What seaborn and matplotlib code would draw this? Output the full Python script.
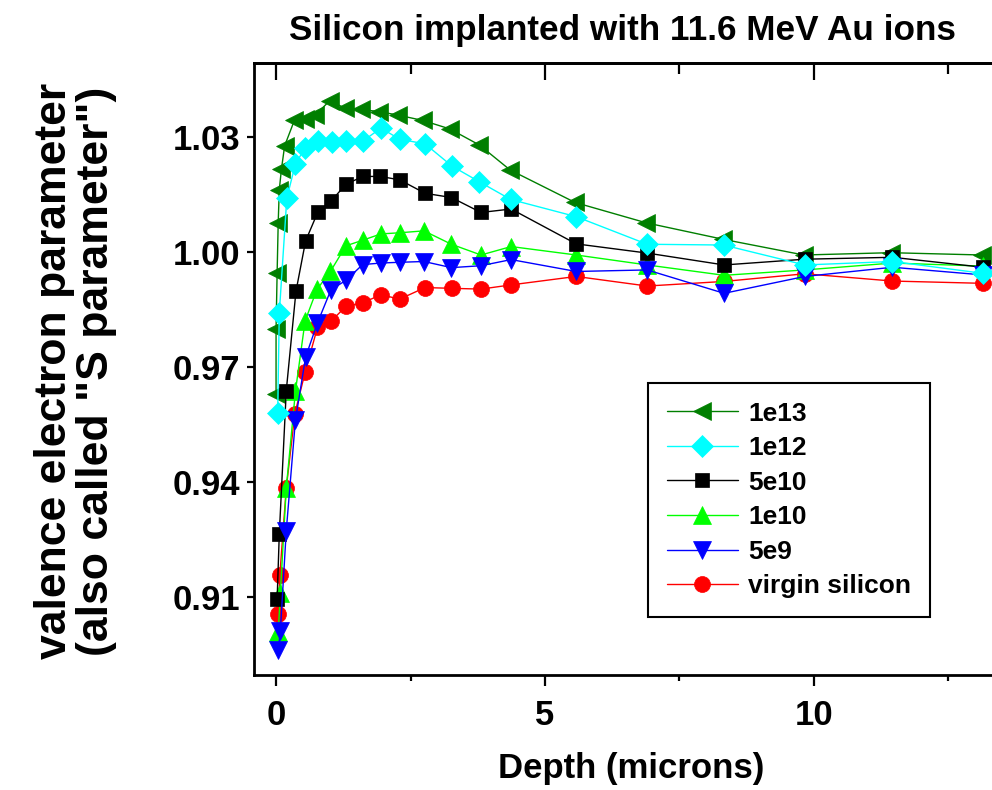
import matplotlib
matplotlib.use("Agg")
import matplotlib.pyplot as plt
import seaborn as sns
from matplotlib.ticker import FixedLocator

# Style: white background, plain ticks, black text
sns.set_style("ticks")
plt.rcParams['font.family'] = ['Liberation Sans', 'DejaVu Sans']
plt.rcParams['font.weight'] = 'bold'
for key in ['text.color', 'axes.labelcolor', 'xtick.color', 'ytick.color', 'axes.edgecolor']:
    plt.rcParams[key] = 'black'

# Data (depth in microns, S parameter)
depth_1e13 = [0.0, 0.0, 0.02, 0.04, 0.06, 0.10, 0.16, 0.34, 0.54, 0.73, 1.00, 1.28,
              1.57, 1.92, 2.27, 2.73, 3.23, 3.78, 4.35, 5.56, 6.88, 8.31, 9.81, 11.43, 13.12]
s_1e13 = [0.9630, 0.9798, 0.9946, 1.0076, 1.0162, 1.0216, 1.0277, 1.0343, 1.0346, 1.0357,
          1.0395, 1.0375, 1.0372, 1.0366, 1.0357, 1.0343, 1.0321, 1.0279, 1.0214, 1.0129,
          1.0076, 1.0033, 0.9992, 0.9998, 0.9992]

depth_1e12 = [0.03, 0.06, 0.20, 0.36, 0.54, 0.78, 1.04, 1.30, 1.62, 1.95, 2.30, 2.77,
              3.27, 3.78, 4.36, 5.58, 6.90, 8.32, 9.83, 11.46, 13.15]
s_1e12 = [0.9580, 0.9840, 1.0140, 1.0230, 1.0271, 1.0290, 1.0287, 1.0290, 1.0290, 1.0323,
          1.0294, 1.0282, 1.0224, 1.0183, 1.0137, 1.0092, 1.0020, 1.0018, 0.9966, 0.9975,
          0.9944]

depth_5e10 = [0.02, 0.06, 0.19, 0.37, 0.55, 0.78, 1.02, 1.30, 1.62, 1.94, 2.30, 2.77,
              3.26, 3.81, 4.37, 5.58, 6.90, 8.33, 9.83, 11.46, 13.14]
s_5e10 = [0.9094, 0.9263, 0.9638, 0.9897, 1.0029, 1.0105, 1.0132, 1.0177, 1.0197, 1.0197,
          1.0188, 1.0153, 1.0142, 1.0103, 1.0112, 1.0021, 0.9997, 0.9966, 0.9981, 0.9986,
          0.9960]

depth_1e10 = [0.04, 0.08, 0.19, 0.36, 0.54, 0.76, 1.01, 1.30, 1.62, 1.95, 2.30, 2.75,
              3.26, 3.81, 4.37, 5.58, 6.90, 8.33, 9.83, 11.46, 13.14]
s_1e10 = [0.9007, 0.9110, 0.9384, 0.9636, 0.9820, 0.9902, 0.9949, 1.0016, 1.0031, 1.0047,
          1.0050, 1.0055, 1.0020, 0.9992, 1.0014, 0.9992, 0.9966, 0.9939, 0.9953, 0.9971,
          0.9963]

depth_5e9 = [0.04, 0.08, 0.19, 0.36, 0.55, 0.77, 1.02, 1.30, 1.61, 1.95, 2.30, 2.75,
             3.26, 3.81, 4.37, 5.58, 6.90, 8.33, 9.83, 11.46, 13.14]
s_5e9 = [0.8961, 0.9011, 0.9273, 0.9561, 0.9726, 0.9815, 0.9901, 0.9926, 0.9967, 0.9971,
         0.9973, 0.9975, 0.9959, 0.9964, 0.9980, 0.9949, 0.9953, 0.9892, 0.9936, 0.9960,
         0.9940]

depth_virgin = [0.04, 0.07, 0.19, 0.35, 0.54, 0.77, 1.02, 1.30, 1.62, 1.95, 2.30, 2.77,
                3.27, 3.81, 4.37, 5.58, 6.90, 8.33, 9.83, 11.46, 13.15]
s_virgin = [0.9054, 0.9157, 0.9384, 0.9578, 0.9686, 0.9803, 0.9819, 0.9858, 0.9868, 0.9888,
            0.9877, 0.9907, 0.9905, 0.9903, 0.9914, 0.9936, 0.9911, 0.9923, 0.9943, 0.9924,
            0.9918]

labels = ['1e13', '1e12', '5e10', '1e10', '5e9', 'virgin silicon']
depths = [depth_1e13, depth_1e12, depth_5e10, depth_1e10, depth_5e9, depth_virgin]
values = [s_1e13, s_1e12, s_5e10, s_1e10, s_5e9, s_virgin]
colors = ['#007f00', '#00ffff', '#000000', '#00ff00', '#0000ff', '#ff0000']
markers = ['<', 'D', 's', '^', 'v', 'o']
msizes = [12.5, 11, 10, 12.5, 12.5, 11.5]
zorders = [2, 7, 5, 4, 6, 3]

yticks = [0.91, 0.94, 0.97, 1.00, 1.03]
ytick_labels = ['0.91', '0.94', '0.97', '1.00', '1.03']
xticks = [0, 5, 10]
xtick_labels = ['0', '5', '10']

fig = plt.figure(figsize=(9.92, 7.90), dpi=100)
ax = fig.add_axes([254 / 992, 1 - 675 / 790, 1 - 254 / 992, (675 - 63) / 790])

for lab, d, v, c, m, ms, z in zip(labels, depths, values, colors, markers, msizes, zorders):
    sns.lineplot(x=d, y=v, ax=ax, color=c, marker=m, markersize=ms, mec=c, mew=0.5,
                 linewidth=1.0, sort=False, estimator=None, label=lab, zorder=z)

ax.set_xlim(-0.41, 13.31)
ax.set_ylim(0.8896, 1.0493)

ax.set_yticks(yticks)
ax.set_yticklabels(ytick_labels)
ax.set_xticks(xticks)
ax.set_xticklabels(xtick_labels)
ax.xaxis.set_minor_locator(FixedLocator([2.5, 7.5, 12.5]))

ax.tick_params(axis='both', which='major', labelsize=25, width=1.6)
ax.tick_params(axis='y', which='major', length=5, pad=5, direction='out')
ax.tick_params(axis='x', which='major', length=8, pad=9, direction='out')
ax.tick_params(axis='x', which='minor', length=4.5, width=1.6, direction='out')

# Top ticks point inward
secax = ax.secondary_xaxis('top')
secax.set_xticks(xticks)
secax.xaxis.set_minor_locator(FixedLocator([2.5, 7.5, 12.5]))
secax.tick_params(axis='x', which='major', direction='in', length=12, width=1.6, labeltop=False)
secax.tick_params(axis='x', which='minor', direction='in', length=8, width=1.6)
secax.spines['top'].set_linewidth(2.0)

for side in ['left', 'bottom', 'top']:
    ax.spines[side].set_linewidth(2.0)
ax.spines['right'].set_visible(False)

ax.set_xlabel('Depth (microns)', fontsize=25, fontweight='bold')
ax.xaxis.set_label_coords(0.511, -0.126)
ax.set_ylabel('valence electron parameter\n(also called "S parameter")', fontsize=32,
              fontweight='bold', linespacing=1.05)
ax.yaxis.set_label_coords(-0.185, 0.497)
ax.set_title('Silicon implanted with 11.6 MeV Au ions', fontsize=25.3, fontweight='bold',
             x=0.499, y=1.037, pad=0)

leg = ax.legend(loc='upper left', bbox_to_anchor=(0.534, 0.477), borderaxespad=0,
                frameon=True, fancybox=False, edgecolor='black', framealpha=1,
                fontsize=19, handlelength=2.7, handletextpad=0.4, labelspacing=0.4,
                borderpad=0.7)
leg.get_frame().set_linewidth(1.5)

fig.savefig('out.png', dpi=100)
